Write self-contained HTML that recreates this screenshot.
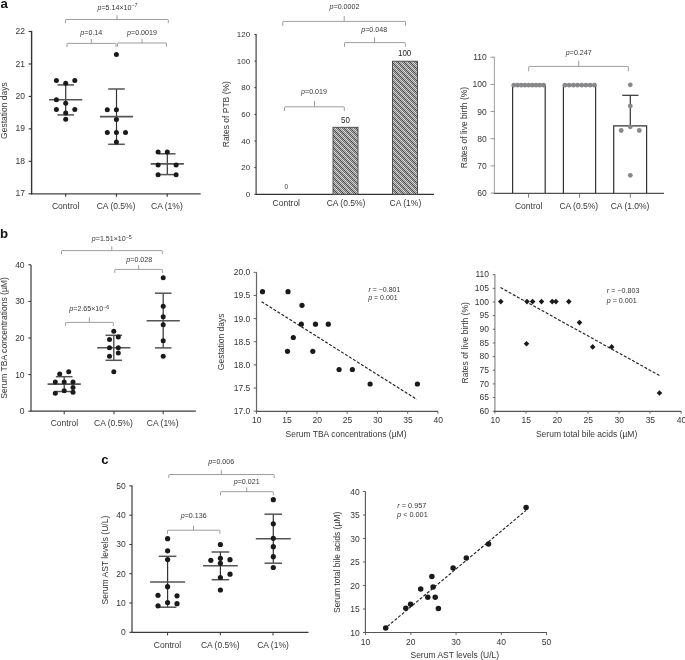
<!DOCTYPE html>
<html><head><meta charset="utf-8"><style>
html,body{margin:0;padding:0;background:#fff;width:685px;height:660px;overflow:hidden}
svg{display:block;will-change:transform}
text{font-family:"Liberation Sans", sans-serif}
</style></head><body>
<svg width="685" height="660" viewBox="0 0 685 660" font-family='"Liberation Sans", sans-serif'>
<rect width="685" height="660" fill="#fff"/>
<text x="0.60" y="7.70" font-size="13.2" text-anchor="start" fill="#111" font-weight="bold">a</text>
<line x1="31.60" y1="30.80" x2="31.60" y2="194.40" stroke="#333" stroke-width="1.4"/>
<line x1="31.00" y1="193.80" x2="200.70" y2="193.80" stroke="#444" stroke-width="1.3"/>
<line x1="28.60" y1="193.80" x2="31.60" y2="193.80" stroke="#333" stroke-width="1.1"/>
<text x="25.00" y="196.40" font-size="8.5" text-anchor="end" fill="#363636">17</text>
<line x1="28.60" y1="161.34" x2="31.60" y2="161.34" stroke="#333" stroke-width="1.1"/>
<text x="25.00" y="163.94" font-size="8.5" text-anchor="end" fill="#363636">18</text>
<line x1="28.60" y1="128.88" x2="31.60" y2="128.88" stroke="#333" stroke-width="1.1"/>
<text x="25.00" y="131.48" font-size="8.5" text-anchor="end" fill="#363636">19</text>
<line x1="28.60" y1="96.42" x2="31.60" y2="96.42" stroke="#333" stroke-width="1.1"/>
<text x="25.00" y="99.02" font-size="8.5" text-anchor="end" fill="#363636">20</text>
<line x1="28.60" y1="63.96" x2="31.60" y2="63.96" stroke="#333" stroke-width="1.1"/>
<text x="25.00" y="66.56" font-size="8.5" text-anchor="end" fill="#363636">21</text>
<line x1="28.60" y1="31.50" x2="31.60" y2="31.50" stroke="#333" stroke-width="1.1"/>
<text x="25.00" y="34.10" font-size="8.5" text-anchor="end" fill="#363636">22</text>
<line x1="65.70" y1="193.80" x2="65.70" y2="196.80" stroke="#333" stroke-width="1.1"/>
<line x1="116.40" y1="193.80" x2="116.40" y2="196.80" stroke="#333" stroke-width="1.1"/>
<line x1="167.20" y1="193.80" x2="167.20" y2="196.80" stroke="#333" stroke-width="1.1"/>
<text x="65.70" y="209.00" font-size="8.5" text-anchor="middle" fill="#363636">Control</text>
<text x="116.10" y="209.00" font-size="8.5" text-anchor="middle" fill="#363636">CA (0.5%)</text>
<text x="166.90" y="209.00" font-size="8.5" text-anchor="middle" fill="#363636">CA (1%)</text>
<text transform="translate(6.90,110.60) rotate(-90)" font-size="8.5" text-anchor="middle" fill="#363636">Gestation days</text>
<line x1="65.70" y1="84.90" x2="65.70" y2="114.90" stroke="#333" stroke-width="1.2"/>
<line x1="57.40" y1="84.90" x2="74.00" y2="84.90" stroke="#555" stroke-width="1.5"/>
<line x1="57.40" y1="114.90" x2="74.00" y2="114.90" stroke="#555" stroke-width="1.5"/>
<line x1="49.10" y1="99.70" x2="82.30" y2="99.70" stroke="#555" stroke-width="1.6"/>
<circle cx="56.40" cy="80.60" r="2.5" fill="#1a1a1a"/>
<circle cx="74.80" cy="80.60" r="2.5" fill="#1a1a1a"/>
<circle cx="65.70" cy="83.20" r="2.5" fill="#1a1a1a"/>
<circle cx="56.40" cy="99.80" r="2.5" fill="#1a1a1a"/>
<circle cx="65.70" cy="103.30" r="2.5" fill="#1a1a1a"/>
<circle cx="56.40" cy="109.60" r="2.5" fill="#1a1a1a"/>
<circle cx="74.80" cy="109.60" r="2.5" fill="#1a1a1a"/>
<circle cx="65.70" cy="113.10" r="2.5" fill="#1a1a1a"/>
<circle cx="65.70" cy="119.30" r="2.5" fill="#1a1a1a"/>
<line x1="116.50" y1="89.00" x2="116.50" y2="144.30" stroke="#333" stroke-width="1.2"/>
<line x1="108.20" y1="89.00" x2="124.80" y2="89.00" stroke="#555" stroke-width="1.5"/>
<line x1="108.20" y1="144.30" x2="124.80" y2="144.30" stroke="#555" stroke-width="1.5"/>
<line x1="99.90" y1="116.60" x2="133.10" y2="116.60" stroke="#555" stroke-width="1.6"/>
<circle cx="116.40" cy="54.60" r="2.5" fill="#1a1a1a"/>
<circle cx="107.30" cy="109.80" r="2.5" fill="#1a1a1a"/>
<circle cx="116.40" cy="109.80" r="2.5" fill="#1a1a1a"/>
<circle cx="116.40" cy="119.40" r="2.5" fill="#1a1a1a"/>
<circle cx="107.30" cy="132.40" r="2.5" fill="#1a1a1a"/>
<circle cx="116.40" cy="132.40" r="2.5" fill="#1a1a1a"/>
<circle cx="125.50" cy="132.40" r="2.5" fill="#1a1a1a"/>
<circle cx="116.40" cy="142.00" r="2.5" fill="#1a1a1a"/>
<line x1="167.30" y1="153.80" x2="167.30" y2="174.60" stroke="#333" stroke-width="1.2"/>
<line x1="159.00" y1="153.80" x2="175.60" y2="153.80" stroke="#555" stroke-width="1.5"/>
<line x1="159.00" y1="174.60" x2="175.60" y2="174.60" stroke="#555" stroke-width="1.5"/>
<line x1="150.70" y1="163.90" x2="183.90" y2="163.90" stroke="#555" stroke-width="1.6"/>
<circle cx="158.10" cy="152.00" r="2.5" fill="#1a1a1a"/>
<circle cx="167.30" cy="152.00" r="2.5" fill="#1a1a1a"/>
<circle cx="158.10" cy="165.10" r="2.5" fill="#1a1a1a"/>
<circle cx="176.10" cy="165.10" r="2.5" fill="#1a1a1a"/>
<circle cx="158.10" cy="174.70" r="2.5" fill="#1a1a1a"/>
<circle cx="176.10" cy="174.70" r="2.5" fill="#1a1a1a"/>
<path d="M65.50 23.10L65.50 20.10Q65.50 19.50 66.10 19.50L167.70 19.50Q168.30 19.50 168.30 20.10L168.30 23.10M117.00 19.50L117.00 15.20" fill="none" stroke="#8c8c8c" stroke-width="0.85"/>
<text x="117.50" y="10.20" font-size="7.1" text-anchor="middle" fill="#363636"><tspan font-style="italic">p</tspan>=5.14×10<tspan font-size="5.32" dy="-2.8">−7</tspan></text>
<path d="M67.00 47.00L67.00 44.00Q67.00 43.40 67.60 43.40L115.40 43.40Q116.00 43.40 116.00 44.00L116.00 47.00M91.30 43.40L91.30 39.10" fill="none" stroke="#8c8c8c" stroke-width="0.85"/>
<text x="91.30" y="34.60" font-size="7.1" text-anchor="middle" fill="#363636"><tspan font-style="italic">p</tspan>=0.14</text>
<path d="M117.50 46.60L117.50 43.60Q117.50 43.00 118.10 43.00L165.90 43.00Q166.50 43.00 166.50 43.60L166.50 46.60M142.00 43.00L142.00 38.70" fill="none" stroke="#8c8c8c" stroke-width="0.85"/>
<text x="142.00" y="34.60" font-size="7.1" text-anchor="middle" fill="#363636"><tspan font-style="italic">p</tspan>=0.0019</text>
<line x1="256.10" y1="34.00" x2="256.10" y2="194.30" stroke="#333" stroke-width="1.1"/>
<line x1="255.60" y1="194.30" x2="434.00" y2="194.30" stroke="#333" stroke-width="1.2"/>
<line x1="254.30" y1="194.30" x2="256.10" y2="194.30" stroke="#333" stroke-width="0.9"/>
<text x="250.20" y="197.00" font-size="8.0" text-anchor="end" fill="#363636">0</text>
<line x1="254.30" y1="167.65" x2="256.10" y2="167.65" stroke="#333" stroke-width="0.9"/>
<text x="250.20" y="170.35" font-size="8.0" text-anchor="end" fill="#363636">20</text>
<line x1="254.30" y1="141.00" x2="256.10" y2="141.00" stroke="#333" stroke-width="0.9"/>
<text x="250.20" y="143.70" font-size="8.0" text-anchor="end" fill="#363636">40</text>
<line x1="254.30" y1="114.35" x2="256.10" y2="114.35" stroke="#333" stroke-width="0.9"/>
<text x="250.20" y="117.05" font-size="8.0" text-anchor="end" fill="#363636">60</text>
<line x1="254.30" y1="87.70" x2="256.10" y2="87.70" stroke="#333" stroke-width="0.9"/>
<text x="250.20" y="90.40" font-size="8.0" text-anchor="end" fill="#363636">80</text>
<line x1="254.30" y1="61.05" x2="256.10" y2="61.05" stroke="#333" stroke-width="0.9"/>
<text x="250.20" y="63.75" font-size="8.0" text-anchor="end" fill="#363636">100</text>
<line x1="254.30" y1="34.40" x2="256.10" y2="34.40" stroke="#333" stroke-width="0.9"/>
<text x="250.20" y="37.10" font-size="8.0" text-anchor="end" fill="#363636">120</text>
<defs><pattern id="chk" x="0" y="0" width="6" height="6" patternUnits="userSpaceOnUse"><rect x="0" y="0" width="1" height="1" fill="#474747"/><rect x="1" y="0" width="1" height="1" fill="#bcbcbc"/><rect x="2" y="0" width="1" height="1" fill="#8e8e8e"/><rect x="3" y="0" width="1" height="1" fill="#dadada"/><rect x="4" y="0" width="1" height="1" fill="#6e6e6e"/><rect x="5" y="0" width="1" height="1" fill="#acacac"/><rect x="0" y="1" width="1" height="1" fill="#acacac"/><rect x="1" y="1" width="1" height="1" fill="#474747"/><rect x="2" y="1" width="1" height="1" fill="#bcbcbc"/><rect x="3" y="1" width="1" height="1" fill="#8e8e8e"/><rect x="4" y="1" width="1" height="1" fill="#dadada"/><rect x="5" y="1" width="1" height="1" fill="#6e6e6e"/><rect x="0" y="2" width="1" height="1" fill="#6e6e6e"/><rect x="1" y="2" width="1" height="1" fill="#acacac"/><rect x="2" y="2" width="1" height="1" fill="#474747"/><rect x="3" y="2" width="1" height="1" fill="#bcbcbc"/><rect x="4" y="2" width="1" height="1" fill="#8e8e8e"/><rect x="5" y="2" width="1" height="1" fill="#dadada"/><rect x="0" y="3" width="1" height="1" fill="#dadada"/><rect x="1" y="3" width="1" height="1" fill="#6e6e6e"/><rect x="2" y="3" width="1" height="1" fill="#acacac"/><rect x="3" y="3" width="1" height="1" fill="#474747"/><rect x="4" y="3" width="1" height="1" fill="#bcbcbc"/><rect x="5" y="3" width="1" height="1" fill="#8e8e8e"/><rect x="0" y="4" width="1" height="1" fill="#8e8e8e"/><rect x="1" y="4" width="1" height="1" fill="#dadada"/><rect x="2" y="4" width="1" height="1" fill="#6e6e6e"/><rect x="3" y="4" width="1" height="1" fill="#acacac"/><rect x="4" y="4" width="1" height="1" fill="#474747"/><rect x="5" y="4" width="1" height="1" fill="#bcbcbc"/><rect x="0" y="5" width="1" height="1" fill="#bcbcbc"/><rect x="1" y="5" width="1" height="1" fill="#8e8e8e"/><rect x="2" y="5" width="1" height="1" fill="#dadada"/><rect x="3" y="5" width="1" height="1" fill="#6e6e6e"/><rect x="4" y="5" width="1" height="1" fill="#acacac"/><rect x="5" y="5" width="1" height="1" fill="#474747"/></pattern></defs>
<rect x="333" y="127.3" width="25" height="67.00" fill="url(#chk)" stroke="#444" stroke-width="0.9"/>
<rect x="392.5" y="61.2" width="25" height="133.10" fill="url(#chk)" stroke="#444" stroke-width="0.9"/>
<text transform="translate(345.5,123.1) scale(1,1.2)" font-size="8" text-anchor="middle" fill="#231f20">50</text>
<text transform="translate(404.6,56.1) scale(1,1.2)" font-size="8" text-anchor="middle" fill="#231f20">100</text>
<text x="286.20" y="189.30" font-size="6.3" text-anchor="middle" fill="#363636">0</text>
<text x="286.30" y="205.80" font-size="8.5" text-anchor="middle" fill="#363636">Control</text>
<text x="346.00" y="205.80" font-size="8.5" text-anchor="middle" fill="#363636">CA (0.5%)</text>
<text x="405.40" y="205.80" font-size="8.5" text-anchor="middle" fill="#363636">CA (1%)</text>
<text transform="translate(228.60,114.20) rotate(-90)" font-size="8.5" text-anchor="middle" fill="#363636">Rates of PTB (%)</text>
<path d="M282.80 25.80L282.80 22.00Q282.80 21.40 283.40 21.40L404.90 21.40Q405.50 21.40 405.50 22.00L405.50 25.80M344.20 21.40L344.20 16.10" fill="none" stroke="#8c8c8c" stroke-width="0.85"/>
<text x="344.50" y="9.30" font-size="7.1" text-anchor="middle" fill="#363636"><tspan font-style="italic">p</tspan>=0.0002</text>
<path d="M344.50 46.80L344.50 43.20Q344.50 42.60 345.10 42.60L404.70 42.60Q405.30 42.60 405.30 43.20L405.30 46.80M374.60 42.60L374.60 37.30" fill="none" stroke="#8c8c8c" stroke-width="0.85"/>
<text x="374.20" y="31.70" font-size="7.1" text-anchor="middle" fill="#363636"><tspan font-style="italic">p</tspan>=0.048</text>
<path d="M284.50 111.00L284.50 107.40Q284.50 106.80 285.10 106.80L343.70 106.80Q344.30 106.80 344.30 107.40L344.30 111.00M314.50 106.80L314.50 100.80" fill="none" stroke="#8c8c8c" stroke-width="0.85"/>
<text x="314.00" y="93.80" font-size="7.1" text-anchor="middle" fill="#363636"><tspan font-style="italic">p</tspan>=0.019</text>
<line x1="494.40" y1="56.80" x2="494.40" y2="193.40" stroke="#a8a8a8" stroke-width="1.1"/>
<line x1="493.90" y1="193.40" x2="664.00" y2="193.40" stroke="#505050" stroke-width="1.1"/>
<line x1="490.60" y1="193.10" x2="494.40" y2="193.10" stroke="#888" stroke-width="0.9"/>
<text x="486.70" y="196.10" font-size="8.5" text-anchor="end" fill="#363636">60</text>
<line x1="490.60" y1="165.92" x2="494.40" y2="165.92" stroke="#888" stroke-width="0.9"/>
<text x="486.70" y="168.92" font-size="8.5" text-anchor="end" fill="#363636">70</text>
<line x1="490.60" y1="138.74" x2="494.40" y2="138.74" stroke="#888" stroke-width="0.9"/>
<text x="486.70" y="141.74" font-size="8.5" text-anchor="end" fill="#363636">80</text>
<line x1="490.60" y1="111.56" x2="494.40" y2="111.56" stroke="#888" stroke-width="0.9"/>
<text x="486.70" y="114.56" font-size="8.5" text-anchor="end" fill="#363636">90</text>
<line x1="490.60" y1="84.38" x2="494.40" y2="84.38" stroke="#888" stroke-width="0.9"/>
<text x="486.70" y="87.38" font-size="8.5" text-anchor="end" fill="#363636">100</text>
<line x1="490.60" y1="57.20" x2="494.40" y2="57.20" stroke="#888" stroke-width="0.9"/>
<text x="486.70" y="60.20" font-size="8.5" text-anchor="end" fill="#363636">110</text>
<line x1="528.60" y1="193.40" x2="528.60" y2="197.60" stroke="#666" stroke-width="0.9"/>
<line x1="579.60" y1="193.40" x2="579.60" y2="197.60" stroke="#666" stroke-width="0.9"/>
<line x1="630.30" y1="193.40" x2="630.30" y2="197.60" stroke="#666" stroke-width="0.9"/>
<path d="M512.6 193.1V85.1H545.2V193.1" fill="none" stroke="#333" stroke-width="1.2"/>
<path d="M563.4 193.1V85.1H595.6V193.1" fill="none" stroke="#333" stroke-width="1.2"/>
<path d="M613.7 193.1V125.9H646.6V193.1" fill="none" stroke="#333" stroke-width="1.2"/>
<line x1="630.30" y1="125.90" x2="630.30" y2="95.30" stroke="#333" stroke-width="1.2"/>
<line x1="622.20" y1="95.30" x2="638.50" y2="95.30" stroke="#333" stroke-width="1.2"/>
<circle cx="513.80" cy="85.20" r="2.4" fill="#88888a"/>
<circle cx="517.51" cy="85.20" r="2.4" fill="#88888a"/>
<circle cx="521.22" cy="85.20" r="2.4" fill="#88888a"/>
<circle cx="524.94" cy="85.20" r="2.4" fill="#88888a"/>
<circle cx="528.65" cy="85.20" r="2.4" fill="#88888a"/>
<circle cx="532.36" cy="85.20" r="2.4" fill="#88888a"/>
<circle cx="536.08" cy="85.20" r="2.4" fill="#88888a"/>
<circle cx="539.79" cy="85.20" r="2.4" fill="#88888a"/>
<circle cx="543.50" cy="85.20" r="2.4" fill="#88888a"/>
<circle cx="564.90" cy="85.20" r="2.4" fill="#88888a"/>
<circle cx="569.11" cy="85.20" r="2.4" fill="#88888a"/>
<circle cx="573.33" cy="85.20" r="2.4" fill="#88888a"/>
<circle cx="577.54" cy="85.20" r="2.4" fill="#88888a"/>
<circle cx="581.76" cy="85.20" r="2.4" fill="#88888a"/>
<circle cx="585.97" cy="85.20" r="2.4" fill="#88888a"/>
<circle cx="590.19" cy="85.20" r="2.4" fill="#88888a"/>
<circle cx="594.40" cy="85.20" r="2.4" fill="#88888a"/>
<circle cx="630.30" cy="84.80" r="2.4" fill="#88888a"/>
<circle cx="630.30" cy="105.90" r="2.4" fill="#88888a"/>
<circle cx="630.30" cy="126.80" r="2.4" fill="#88888a"/>
<circle cx="621.20" cy="130.50" r="2.4" fill="#88888a"/>
<circle cx="639.30" cy="130.50" r="2.4" fill="#88888a"/>
<circle cx="630.30" cy="175.30" r="2.4" fill="#88888a"/>
<text x="528.70" y="208.90" font-size="8.5" text-anchor="middle" fill="#363636">Control</text>
<text x="578.80" y="208.90" font-size="8.5" text-anchor="middle" fill="#363636">CA (0.5%)</text>
<text x="630.10" y="208.90" font-size="8.5" text-anchor="middle" fill="#363636">CA (1.0%)</text>
<text transform="translate(466.50,127.50) rotate(-90)" font-size="8.5" text-anchor="middle" fill="#363636">Rates of live birth (%)</text>
<path d="M528.70 71.40L528.70 67.00Q528.70 66.40 529.30 66.40L627.70 66.40Q628.30 66.40 628.30 67.00L628.30 71.40M578.70 66.40L578.70 60.80" fill="none" stroke="#8c8c8c" stroke-width="0.85"/>
<text x="578.80" y="55.00" font-size="7.1" text-anchor="middle" fill="#363636"><tspan font-style="italic">p</tspan>=0.247</text>
<text x="0.00" y="237.90" font-size="13.2" text-anchor="start" fill="#111" font-weight="bold">b</text>
<line x1="31.00" y1="264.80" x2="31.00" y2="411.20" stroke="#3a3a3a" stroke-width="1.2"/>
<line x1="30.40" y1="411.20" x2="195.80" y2="411.20" stroke="#3a3a3a" stroke-width="1.2"/>
<line x1="28.30" y1="411.20" x2="31.00" y2="411.20" stroke="#333" stroke-width="1.0"/>
<text x="24.60" y="414.20" font-size="8.5" text-anchor="end" fill="#363636">0</text>
<line x1="28.30" y1="374.60" x2="31.00" y2="374.60" stroke="#333" stroke-width="1.0"/>
<text x="24.60" y="377.60" font-size="8.5" text-anchor="end" fill="#363636">10</text>
<line x1="28.30" y1="338.00" x2="31.00" y2="338.00" stroke="#333" stroke-width="1.0"/>
<text x="24.60" y="341.00" font-size="8.5" text-anchor="end" fill="#363636">20</text>
<line x1="28.30" y1="301.40" x2="31.00" y2="301.40" stroke="#333" stroke-width="1.0"/>
<text x="24.60" y="304.40" font-size="8.5" text-anchor="end" fill="#363636">30</text>
<line x1="28.30" y1="264.80" x2="31.00" y2="264.80" stroke="#333" stroke-width="1.0"/>
<text x="24.60" y="267.80" font-size="8.5" text-anchor="end" fill="#363636">40</text>
<line x1="64.20" y1="411.20" x2="64.20" y2="414.30" stroke="#333" stroke-width="1.0"/>
<line x1="114.00" y1="411.20" x2="114.00" y2="414.30" stroke="#333" stroke-width="1.0"/>
<line x1="163.20" y1="411.20" x2="163.20" y2="414.30" stroke="#333" stroke-width="1.0"/>
<text x="64.40" y="426.40" font-size="8.5" text-anchor="middle" fill="#363636">Control</text>
<text x="113.40" y="426.40" font-size="8.5" text-anchor="middle" fill="#363636">CA (0.5%)</text>
<text x="162.70" y="426.40" font-size="8.5" text-anchor="middle" fill="#363636">CA (1%)</text>
<text transform="translate(7.30,338.00) rotate(-90)" font-size="8.55" text-anchor="middle" fill="#363636">Serum TBA concentrations (µM)</text>
<line x1="64.20" y1="376.70" x2="64.20" y2="391.50" stroke="#333" stroke-width="1.2"/>
<line x1="55.90" y1="376.70" x2="72.50" y2="376.70" stroke="#555" stroke-width="1.5"/>
<line x1="55.90" y1="391.50" x2="72.50" y2="391.50" stroke="#555" stroke-width="1.5"/>
<line x1="47.60" y1="384.10" x2="80.80" y2="384.10" stroke="#555" stroke-width="1.6"/>
<circle cx="59.70" cy="374.10" r="2.5" fill="#1a1a1a"/>
<circle cx="68.70" cy="371.70" r="2.5" fill="#1a1a1a"/>
<circle cx="55.30" cy="382.00" r="2.5" fill="#1a1a1a"/>
<circle cx="64.20" cy="382.00" r="2.5" fill="#1a1a1a"/>
<circle cx="73.00" cy="382.00" r="2.5" fill="#1a1a1a"/>
<circle cx="73.00" cy="387.60" r="2.5" fill="#1a1a1a"/>
<circle cx="55.30" cy="393.30" r="2.5" fill="#1a1a1a"/>
<circle cx="64.20" cy="390.80" r="2.5" fill="#1a1a1a"/>
<circle cx="73.00" cy="392.20" r="2.5" fill="#1a1a1a"/>
<line x1="113.80" y1="335.30" x2="113.80" y2="360.30" stroke="#333" stroke-width="1.2"/>
<line x1="105.50" y1="335.30" x2="122.10" y2="335.30" stroke="#555" stroke-width="1.5"/>
<line x1="105.50" y1="360.30" x2="122.10" y2="360.30" stroke="#555" stroke-width="1.5"/>
<line x1="97.20" y1="347.80" x2="130.40" y2="347.80" stroke="#555" stroke-width="1.6"/>
<circle cx="113.80" cy="331.20" r="2.5" fill="#1a1a1a"/>
<circle cx="109.50" cy="339.50" r="2.5" fill="#1a1a1a"/>
<circle cx="118.30" cy="337.00" r="2.5" fill="#1a1a1a"/>
<circle cx="109.50" cy="347.80" r="2.5" fill="#1a1a1a"/>
<circle cx="118.30" cy="347.80" r="2.5" fill="#1a1a1a"/>
<circle cx="118.30" cy="353.00" r="2.5" fill="#1a1a1a"/>
<circle cx="109.50" cy="356.20" r="2.5" fill="#1a1a1a"/>
<circle cx="113.80" cy="371.70" r="2.5" fill="#1a1a1a"/>
<line x1="163.20" y1="293.20" x2="163.20" y2="347.90" stroke="#333" stroke-width="1.2"/>
<line x1="154.90" y1="293.20" x2="171.50" y2="293.20" stroke="#555" stroke-width="1.5"/>
<line x1="154.90" y1="347.90" x2="171.50" y2="347.90" stroke="#555" stroke-width="1.5"/>
<line x1="146.60" y1="320.70" x2="179.80" y2="320.70" stroke="#555" stroke-width="1.6"/>
<circle cx="163.20" cy="277.70" r="2.5" fill="#1a1a1a"/>
<circle cx="163.20" cy="306.30" r="2.5" fill="#1a1a1a"/>
<circle cx="163.20" cy="316.70" r="2.5" fill="#1a1a1a"/>
<circle cx="163.20" cy="324.70" r="2.5" fill="#1a1a1a"/>
<circle cx="163.20" cy="340.80" r="2.5" fill="#1a1a1a"/>
<circle cx="163.20" cy="356.30" r="2.5" fill="#1a1a1a"/>
<path d="M61.50 254.20L61.50 251.20Q61.50 250.60 62.10 250.60L161.70 250.60Q162.30 250.60 162.30 251.20L162.30 254.20M111.80 250.60L111.80 246.30" fill="none" stroke="#8c8c8c" stroke-width="0.85"/>
<text x="111.80" y="241.30" font-size="7.1" text-anchor="middle" fill="#363636"><tspan font-style="italic">p</tspan>=1.51×10<tspan font-size="5.32" dy="-2.8">−5</tspan></text>
<path d="M114.80 273.00L114.80 270.00Q114.80 269.40 115.40 269.40L161.80 269.40Q162.40 269.40 162.40 270.00L162.40 273.00M138.70 269.40L138.70 265.10" fill="none" stroke="#8c8c8c" stroke-width="0.85"/>
<text x="139.30" y="261.90" font-size="7.1" text-anchor="middle" fill="#363636"><tspan font-style="italic">p</tspan>=0.028</text>
<path d="M65.60 326.00L65.60 323.00Q65.60 322.40 66.20 322.40L112.70 322.40Q113.30 322.40 113.30 323.00L113.30 326.00M89.30 322.40L89.30 317.20" fill="none" stroke="#8c8c8c" stroke-width="0.85"/>
<text x="89.30" y="311.30" font-size="7.1" text-anchor="middle" fill="#363636"><tspan font-style="italic">p</tspan>=2.65×10<tspan font-size="5.32" dy="-2.8">−6</tspan></text>
<line x1="256.50" y1="272.20" x2="256.50" y2="411.40" stroke="#666" stroke-width="1.2"/>
<line x1="256.00" y1="411.40" x2="438.20" y2="411.40" stroke="#555" stroke-width="1.2"/>
<line x1="253.60" y1="411.20" x2="256.50" y2="411.20" stroke="#555" stroke-width="0.9"/>
<text x="250.30" y="414.20" font-size="8.5" text-anchor="end" fill="#363636">17.0</text>
<line x1="253.60" y1="388.05" x2="256.50" y2="388.05" stroke="#555" stroke-width="0.9"/>
<text x="250.30" y="391.05" font-size="8.5" text-anchor="end" fill="#363636">17.5</text>
<line x1="253.60" y1="364.90" x2="256.50" y2="364.90" stroke="#555" stroke-width="0.9"/>
<text x="250.30" y="367.90" font-size="8.5" text-anchor="end" fill="#363636">18.0</text>
<line x1="253.60" y1="341.75" x2="256.50" y2="341.75" stroke="#555" stroke-width="0.9"/>
<text x="250.30" y="344.75" font-size="8.5" text-anchor="end" fill="#363636">18.5</text>
<line x1="253.60" y1="318.60" x2="256.50" y2="318.60" stroke="#555" stroke-width="0.9"/>
<text x="250.30" y="321.60" font-size="8.5" text-anchor="end" fill="#363636">19.0</text>
<line x1="253.60" y1="295.45" x2="256.50" y2="295.45" stroke="#555" stroke-width="0.9"/>
<text x="250.30" y="298.45" font-size="8.5" text-anchor="end" fill="#363636">19.5</text>
<line x1="253.60" y1="272.30" x2="256.50" y2="272.30" stroke="#555" stroke-width="0.9"/>
<text x="250.30" y="275.30" font-size="8.5" text-anchor="end" fill="#363636">20.0</text>
<line x1="256.50" y1="411.40" x2="256.50" y2="413.80" stroke="#555" stroke-width="0.9"/>
<text x="256.80" y="423.20" font-size="8.5" text-anchor="middle" fill="#363636">10</text>
<line x1="286.74" y1="411.40" x2="286.74" y2="413.80" stroke="#555" stroke-width="0.9"/>
<text x="287.04" y="423.20" font-size="8.5" text-anchor="middle" fill="#363636">15</text>
<line x1="316.97" y1="411.40" x2="316.97" y2="413.80" stroke="#555" stroke-width="0.9"/>
<text x="317.27" y="423.20" font-size="8.5" text-anchor="middle" fill="#363636">20</text>
<line x1="347.20" y1="411.40" x2="347.20" y2="413.80" stroke="#555" stroke-width="0.9"/>
<text x="347.50" y="423.20" font-size="8.5" text-anchor="middle" fill="#363636">25</text>
<line x1="377.44" y1="411.40" x2="377.44" y2="413.80" stroke="#555" stroke-width="0.9"/>
<text x="377.74" y="423.20" font-size="8.5" text-anchor="middle" fill="#363636">30</text>
<line x1="407.67" y1="411.40" x2="407.67" y2="413.80" stroke="#555" stroke-width="0.9"/>
<text x="407.97" y="423.20" font-size="8.5" text-anchor="middle" fill="#363636">35</text>
<line x1="437.91" y1="411.40" x2="437.91" y2="413.80" stroke="#555" stroke-width="0.9"/>
<text x="438.21" y="423.20" font-size="8.5" text-anchor="middle" fill="#363636">40</text>
<text x="346.00" y="437.20" font-size="8.5" text-anchor="middle" fill="#363636">Serum TBA concentrations (µM)</text>
<text transform="translate(223.70,341.80) rotate(-90)" font-size="8.5" text-anchor="middle" fill="#363636">Gestation days</text>
<line x1="261.6" y1="301.7" x2="416.8" y2="399.4" stroke="#222" stroke-width="1.15" stroke-dasharray="3,1.7"/>
<circle cx="262.50" cy="291.70" r="2.6" fill="#1a1a1a"/>
<circle cx="288.00" cy="291.70" r="2.6" fill="#1a1a1a"/>
<circle cx="302.00" cy="305.30" r="2.6" fill="#1a1a1a"/>
<circle cx="301.30" cy="324.20" r="2.6" fill="#1a1a1a"/>
<circle cx="315.50" cy="324.20" r="2.6" fill="#1a1a1a"/>
<circle cx="328.30" cy="324.20" r="2.6" fill="#1a1a1a"/>
<circle cx="293.30" cy="337.50" r="2.6" fill="#1a1a1a"/>
<circle cx="287.50" cy="351.30" r="2.6" fill="#1a1a1a"/>
<circle cx="312.80" cy="351.30" r="2.6" fill="#1a1a1a"/>
<circle cx="370.10" cy="384.00" r="2.6" fill="#1a1a1a"/>
<circle cx="417.40" cy="384.00" r="2.6" fill="#1a1a1a"/>
<circle cx="339.10" cy="369.50" r="2.6" fill="#1a1a1a"/>
<circle cx="352.40" cy="369.50" r="2.6" fill="#1a1a1a"/>
<text x="368.40" y="292.00" font-size="7.0" text-anchor="start" fill="#363636"><tspan font-style="italic">r</tspan> = −0.801</text>
<text x="368.20" y="300.40" font-size="7.0" text-anchor="start" fill="#363636"><tspan font-style="italic">p</tspan> = 0.001</text>
<line x1="494.90" y1="274.20" x2="494.90" y2="411.40" stroke="#a0a0a0" stroke-width="1.5"/>
<line x1="494.30" y1="411.40" x2="681.20" y2="411.40" stroke="#555" stroke-width="1.1"/>
<line x1="492.80" y1="411.20" x2="494.90" y2="411.20" stroke="#555" stroke-width="0.9"/>
<text x="489.00" y="413.90" font-size="8.5" text-anchor="end" fill="#363636">60</text>
<line x1="492.80" y1="397.55" x2="494.90" y2="397.55" stroke="#555" stroke-width="0.9"/>
<text x="489.00" y="400.25" font-size="8.5" text-anchor="end" fill="#363636">65</text>
<line x1="492.80" y1="383.90" x2="494.90" y2="383.90" stroke="#555" stroke-width="0.9"/>
<text x="489.00" y="386.60" font-size="8.5" text-anchor="end" fill="#363636">70</text>
<line x1="492.80" y1="370.25" x2="494.90" y2="370.25" stroke="#555" stroke-width="0.9"/>
<text x="489.00" y="372.95" font-size="8.5" text-anchor="end" fill="#363636">75</text>
<line x1="492.80" y1="356.60" x2="494.90" y2="356.60" stroke="#555" stroke-width="0.9"/>
<text x="489.00" y="359.30" font-size="8.5" text-anchor="end" fill="#363636">80</text>
<line x1="492.80" y1="342.95" x2="494.90" y2="342.95" stroke="#555" stroke-width="0.9"/>
<text x="489.00" y="345.65" font-size="8.5" text-anchor="end" fill="#363636">85</text>
<line x1="492.80" y1="329.30" x2="494.90" y2="329.30" stroke="#555" stroke-width="0.9"/>
<text x="489.00" y="332.00" font-size="8.5" text-anchor="end" fill="#363636">90</text>
<line x1="492.80" y1="315.65" x2="494.90" y2="315.65" stroke="#555" stroke-width="0.9"/>
<text x="489.00" y="318.35" font-size="8.5" text-anchor="end" fill="#363636">95</text>
<line x1="492.80" y1="302.00" x2="494.90" y2="302.00" stroke="#555" stroke-width="0.9"/>
<text x="489.00" y="304.70" font-size="8.5" text-anchor="end" fill="#363636">100</text>
<line x1="492.80" y1="288.35" x2="494.90" y2="288.35" stroke="#555" stroke-width="0.9"/>
<text x="489.00" y="291.05" font-size="8.5" text-anchor="end" fill="#363636">105</text>
<line x1="492.80" y1="274.70" x2="494.90" y2="274.70" stroke="#555" stroke-width="0.9"/>
<text x="489.00" y="277.40" font-size="8.5" text-anchor="end" fill="#363636">110</text>
<line x1="494.90" y1="411.40" x2="494.90" y2="413.60" stroke="#555" stroke-width="0.9"/>
<text x="495.20" y="423.30" font-size="8.5" text-anchor="middle" fill="#363636">10</text>
<line x1="525.93" y1="411.40" x2="525.93" y2="413.60" stroke="#555" stroke-width="0.9"/>
<text x="526.23" y="423.30" font-size="8.5" text-anchor="middle" fill="#363636">15</text>
<line x1="556.97" y1="411.40" x2="556.97" y2="413.60" stroke="#555" stroke-width="0.9"/>
<text x="557.27" y="423.30" font-size="8.5" text-anchor="middle" fill="#363636">20</text>
<line x1="588.00" y1="411.40" x2="588.00" y2="413.60" stroke="#555" stroke-width="0.9"/>
<text x="588.30" y="423.30" font-size="8.5" text-anchor="middle" fill="#363636">25</text>
<line x1="619.04" y1="411.40" x2="619.04" y2="413.60" stroke="#555" stroke-width="0.9"/>
<text x="619.34" y="423.30" font-size="8.5" text-anchor="middle" fill="#363636">30</text>
<line x1="650.07" y1="411.40" x2="650.07" y2="413.60" stroke="#555" stroke-width="0.9"/>
<text x="650.37" y="423.30" font-size="8.5" text-anchor="middle" fill="#363636">35</text>
<line x1="681.11" y1="411.40" x2="681.11" y2="413.60" stroke="#555" stroke-width="0.9"/>
<text x="681.41" y="423.30" font-size="8.5" text-anchor="middle" fill="#363636">40</text>
<text x="586.60" y="437.40" font-size="8.5" text-anchor="middle" fill="#363636">Serum total bile acids (µM)</text>
<text transform="translate(468.10,342.80) rotate(-90)" font-size="8.5" text-anchor="middle" fill="#363636">Rates of live birth (%)</text>
<line x1="500.5" y1="287.6" x2="659.9" y2="375.7" stroke="#222" stroke-width="1.15" stroke-dasharray="3,1.7"/>
<path d="M500.80 298.80L503.60 301.60L500.80 304.40L498.00 301.60Z" fill="#1a1a1a"/>
<path d="M527.00 298.80L529.80 301.60L527.00 304.40L524.20 301.60Z" fill="#1a1a1a"/>
<path d="M532.60 298.80L535.40 301.60L532.60 304.40L529.80 301.60Z" fill="#1a1a1a"/>
<path d="M541.50 298.80L544.30 301.60L541.50 304.40L538.70 301.60Z" fill="#1a1a1a"/>
<path d="M552.20 298.80L555.00 301.60L552.20 304.40L549.40 301.60Z" fill="#1a1a1a"/>
<path d="M555.90 298.80L558.70 301.60L555.90 304.40L553.10 301.60Z" fill="#1a1a1a"/>
<path d="M568.80 298.80L571.60 301.60L568.80 304.40L566.00 301.60Z" fill="#1a1a1a"/>
<path d="M579.50 319.80L582.30 322.60L579.50 325.40L576.70 322.60Z" fill="#1a1a1a"/>
<path d="M526.50 340.90L529.30 343.70L526.50 346.50L523.70 343.70Z" fill="#1a1a1a"/>
<path d="M592.70 344.10L595.50 346.90L592.70 349.70L589.90 346.90Z" fill="#1a1a1a"/>
<path d="M611.70 344.10L614.50 346.90L611.70 349.70L608.90 346.90Z" fill="#1a1a1a"/>
<path d="M659.50 390.20L662.30 393.00L659.50 395.80L656.70 393.00Z" fill="#1a1a1a"/>
<text x="606.80" y="292.80" font-size="7.15" text-anchor="start" fill="#363636"><tspan font-style="italic">r</tspan> = −0.803</text>
<text x="606.70" y="302.80" font-size="7.15" text-anchor="start" fill="#363636"><tspan font-style="italic">p</tspan> = 0.001</text>
<text x="101.20" y="463.90" font-size="13.2" text-anchor="start" fill="#111" font-weight="bold">c</text>
<line x1="132.00" y1="485.50" x2="132.00" y2="632.30" stroke="#3a3a3a" stroke-width="1.2"/>
<line x1="131.40" y1="632.30" x2="308.50" y2="632.30" stroke="#3a3a3a" stroke-width="1.2"/>
<line x1="129.30" y1="632.30" x2="132.00" y2="632.30" stroke="#333" stroke-width="1.0"/>
<text x="125.80" y="635.30" font-size="8.5" text-anchor="end" fill="#363636">0</text>
<line x1="129.30" y1="603.02" x2="132.00" y2="603.02" stroke="#333" stroke-width="1.0"/>
<text x="125.80" y="606.02" font-size="8.5" text-anchor="end" fill="#363636">10</text>
<line x1="129.30" y1="573.74" x2="132.00" y2="573.74" stroke="#333" stroke-width="1.0"/>
<text x="125.80" y="576.74" font-size="8.5" text-anchor="end" fill="#363636">20</text>
<line x1="129.30" y1="544.46" x2="132.00" y2="544.46" stroke="#333" stroke-width="1.0"/>
<text x="125.80" y="547.46" font-size="8.5" text-anchor="end" fill="#363636">30</text>
<line x1="129.30" y1="515.18" x2="132.00" y2="515.18" stroke="#333" stroke-width="1.0"/>
<text x="125.80" y="518.18" font-size="8.5" text-anchor="end" fill="#363636">40</text>
<line x1="129.30" y1="485.90" x2="132.00" y2="485.90" stroke="#333" stroke-width="1.0"/>
<text x="125.80" y="488.90" font-size="8.5" text-anchor="end" fill="#363636">50</text>
<line x1="167.60" y1="632.30" x2="167.60" y2="635.40" stroke="#333" stroke-width="1.0"/>
<line x1="220.30" y1="632.30" x2="220.30" y2="635.40" stroke="#333" stroke-width="1.0"/>
<line x1="273.00" y1="632.30" x2="273.00" y2="635.40" stroke="#333" stroke-width="1.0"/>
<text x="167.50" y="648.10" font-size="8.5" text-anchor="middle" fill="#363636">Control</text>
<text x="220.30" y="648.10" font-size="8.5" text-anchor="middle" fill="#363636">CA (0.5%)</text>
<text x="273.00" y="648.10" font-size="8.5" text-anchor="middle" fill="#363636">CA (1%)</text>
<text transform="translate(108.00,560.10) rotate(-90)" font-size="8.5" text-anchor="middle" fill="#363636">Serum AST levels (U/L)</text>
<line x1="167.60" y1="556.30" x2="167.60" y2="607.20" stroke="#333" stroke-width="1.2"/>
<line x1="158.80" y1="556.30" x2="176.40" y2="556.30" stroke="#555" stroke-width="1.5"/>
<line x1="158.80" y1="607.20" x2="176.40" y2="607.20" stroke="#555" stroke-width="1.5"/>
<line x1="150.10" y1="582.00" x2="185.10" y2="582.00" stroke="#555" stroke-width="1.6"/>
<circle cx="167.60" cy="538.70" r="2.6" fill="#1a1a1a"/>
<circle cx="167.60" cy="550.80" r="2.6" fill="#1a1a1a"/>
<circle cx="167.60" cy="559.50" r="2.6" fill="#1a1a1a"/>
<circle cx="167.60" cy="586.70" r="2.6" fill="#1a1a1a"/>
<circle cx="158.00" cy="595.30" r="2.6" fill="#1a1a1a"/>
<circle cx="177.00" cy="595.80" r="2.6" fill="#1a1a1a"/>
<circle cx="167.60" cy="602.50" r="2.6" fill="#1a1a1a"/>
<circle cx="177.00" cy="603.70" r="2.6" fill="#1a1a1a"/>
<circle cx="158.00" cy="605.80" r="2.6" fill="#1a1a1a"/>
<line x1="220.40" y1="552.00" x2="220.40" y2="579.70" stroke="#333" stroke-width="1.2"/>
<line x1="211.60" y1="552.00" x2="229.20" y2="552.00" stroke="#555" stroke-width="1.5"/>
<line x1="211.60" y1="579.70" x2="229.20" y2="579.70" stroke="#555" stroke-width="1.5"/>
<line x1="203.00" y1="565.80" x2="237.80" y2="565.80" stroke="#555" stroke-width="1.6"/>
<circle cx="220.40" cy="544.50" r="2.6" fill="#1a1a1a"/>
<circle cx="220.40" cy="558.30" r="2.6" fill="#1a1a1a"/>
<circle cx="210.80" cy="560.30" r="2.6" fill="#1a1a1a"/>
<circle cx="230.00" cy="559.70" r="2.6" fill="#1a1a1a"/>
<circle cx="220.40" cy="563.30" r="2.6" fill="#1a1a1a"/>
<circle cx="230.00" cy="574.20" r="2.6" fill="#1a1a1a"/>
<circle cx="220.40" cy="577.50" r="2.6" fill="#1a1a1a"/>
<circle cx="220.40" cy="590.00" r="2.6" fill="#1a1a1a"/>
<line x1="273.30" y1="514.20" x2="273.30" y2="563.20" stroke="#333" stroke-width="1.2"/>
<line x1="264.50" y1="514.20" x2="282.10" y2="514.20" stroke="#555" stroke-width="1.5"/>
<line x1="264.50" y1="563.20" x2="282.10" y2="563.20" stroke="#555" stroke-width="1.5"/>
<line x1="255.80" y1="538.70" x2="290.80" y2="538.70" stroke="#555" stroke-width="1.6"/>
<circle cx="273.30" cy="499.70" r="2.6" fill="#1a1a1a"/>
<circle cx="273.30" cy="523.80" r="2.6" fill="#1a1a1a"/>
<circle cx="273.30" cy="538.30" r="2.6" fill="#1a1a1a"/>
<circle cx="273.30" cy="546.70" r="2.6" fill="#1a1a1a"/>
<circle cx="273.30" cy="556.70" r="2.6" fill="#1a1a1a"/>
<circle cx="273.30" cy="567.50" r="2.6" fill="#1a1a1a"/>
<path d="M168.80 478.10L168.80 475.10Q168.80 474.50 169.40 474.50L273.60 474.50Q274.20 474.50 274.20 475.10L274.20 478.10M221.30 474.50L221.30 470.20" fill="none" stroke="#8c8c8c" stroke-width="0.85"/>
<text x="221.30" y="464.20" font-size="7.1" text-anchor="middle" fill="#363636"><tspan font-style="italic">p</tspan>=0.006</text>
<path d="M220.50 495.30L220.50 492.30Q220.50 491.70 221.10 491.70L272.70 491.70Q273.30 491.70 273.30 492.30L273.30 495.30M246.70 491.70L246.70 487.40" fill="none" stroke="#8c8c8c" stroke-width="0.85"/>
<text x="246.70" y="483.80" font-size="7.1" text-anchor="middle" fill="#363636"><tspan font-style="italic">p</tspan>=0.021</text>
<path d="M167.50 533.80L167.50 530.80Q167.50 530.20 168.10 530.20L219.30 530.20Q219.90 530.20 219.90 530.80L219.90 533.80M193.50 530.20L193.50 525.90" fill="none" stroke="#8c8c8c" stroke-width="0.85"/>
<text x="193.70" y="518.00" font-size="7.1" text-anchor="middle" fill="#363636"><tspan font-style="italic">p</tspan>=0.136</text>
<line x1="365.40" y1="491.20" x2="365.40" y2="632.50" stroke="#555" stroke-width="1.1"/>
<line x1="364.90" y1="632.50" x2="547.00" y2="632.50" stroke="#555" stroke-width="1.1"/>
<line x1="362.90" y1="632.50" x2="365.40" y2="632.50" stroke="#555" stroke-width="0.9"/>
<text x="359.70" y="635.50" font-size="8.5" text-anchor="end" fill="#363636">10</text>
<line x1="362.90" y1="609.00" x2="365.40" y2="609.00" stroke="#555" stroke-width="0.9"/>
<text x="359.70" y="612.00" font-size="8.5" text-anchor="end" fill="#363636">15</text>
<line x1="362.90" y1="585.50" x2="365.40" y2="585.50" stroke="#555" stroke-width="0.9"/>
<text x="359.70" y="588.50" font-size="8.5" text-anchor="end" fill="#363636">20</text>
<line x1="362.90" y1="562.00" x2="365.40" y2="562.00" stroke="#555" stroke-width="0.9"/>
<text x="359.70" y="565.00" font-size="8.5" text-anchor="end" fill="#363636">25</text>
<line x1="362.90" y1="538.50" x2="365.40" y2="538.50" stroke="#555" stroke-width="0.9"/>
<text x="359.70" y="541.50" font-size="8.5" text-anchor="end" fill="#363636">30</text>
<line x1="362.90" y1="515.00" x2="365.40" y2="515.00" stroke="#555" stroke-width="0.9"/>
<text x="359.70" y="518.00" font-size="8.5" text-anchor="end" fill="#363636">35</text>
<line x1="362.90" y1="491.50" x2="365.40" y2="491.50" stroke="#555" stroke-width="0.9"/>
<text x="359.70" y="494.50" font-size="8.5" text-anchor="end" fill="#363636">40</text>
<line x1="365.60" y1="632.50" x2="365.60" y2="635.00" stroke="#555" stroke-width="0.9"/>
<text x="365.60" y="645.30" font-size="8.5" text-anchor="middle" fill="#363636">10</text>
<line x1="410.83" y1="632.50" x2="410.83" y2="635.00" stroke="#555" stroke-width="0.9"/>
<text x="410.83" y="645.30" font-size="8.5" text-anchor="middle" fill="#363636">20</text>
<line x1="456.05" y1="632.50" x2="456.05" y2="635.00" stroke="#555" stroke-width="0.9"/>
<text x="456.05" y="645.30" font-size="8.5" text-anchor="middle" fill="#363636">30</text>
<line x1="501.28" y1="632.50" x2="501.28" y2="635.00" stroke="#555" stroke-width="0.9"/>
<text x="501.28" y="645.30" font-size="8.5" text-anchor="middle" fill="#363636">40</text>
<line x1="546.50" y1="632.50" x2="546.50" y2="635.00" stroke="#555" stroke-width="0.9"/>
<text x="546.50" y="645.30" font-size="8.5" text-anchor="middle" fill="#363636">50</text>
<text x="454.80" y="657.60" font-size="8.5" text-anchor="middle" fill="#363636">Serum AST levels (U/L)</text>
<text transform="translate(340.40,562.40) rotate(-90)" font-size="8.5" text-anchor="middle" fill="#363636">Serum total bile acids (µM)</text>
<line x1="387.4" y1="626.4" x2="526.0" y2="510.4" stroke="#222" stroke-width="1.15" stroke-dasharray="3,1.7"/>
<circle cx="385.70" cy="628.10" r="2.75" fill="#1a1a1a"/>
<circle cx="405.80" cy="608.30" r="2.75" fill="#1a1a1a"/>
<circle cx="410.60" cy="604.20" r="2.75" fill="#1a1a1a"/>
<circle cx="420.70" cy="589.00" r="2.75" fill="#1a1a1a"/>
<circle cx="427.80" cy="597.30" r="2.75" fill="#1a1a1a"/>
<circle cx="431.90" cy="576.60" r="2.75" fill="#1a1a1a"/>
<circle cx="433.10" cy="586.90" r="2.75" fill="#1a1a1a"/>
<circle cx="435.20" cy="597.30" r="2.75" fill="#1a1a1a"/>
<circle cx="438.40" cy="608.60" r="2.75" fill="#1a1a1a"/>
<circle cx="453.10" cy="568.10" r="2.75" fill="#1a1a1a"/>
<circle cx="466.30" cy="558.10" r="2.75" fill="#1a1a1a"/>
<circle cx="488.50" cy="543.90" r="2.75" fill="#1a1a1a"/>
<circle cx="526.10" cy="507.60" r="2.75" fill="#1a1a1a"/>
<text x="397.30" y="508.10" font-size="7.3" text-anchor="start" fill="#363636"><tspan font-style="italic">r</tspan> = 0.957</text>
<text x="397.10" y="516.80" font-size="7.3" text-anchor="start" fill="#363636"><tspan font-style="italic">p</tspan> &lt; 0.001</text>
</svg>
</body></html>
